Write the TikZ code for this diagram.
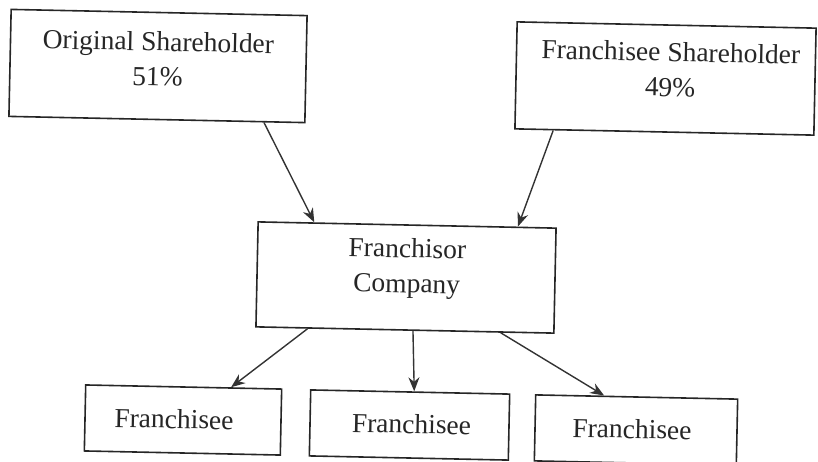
\documentclass[tikz,border=0pt]{standalone}
\usepackage{fontspec}
\setmainfont{Liberation Serif}
\usetikzlibrary{calc,arrows.meta}
\tikzset{
  box/.style={draw=black!85, line width=1.6pt, rectangle, inner sep=0pt, rotate=-1.2},
  lbl/.style={align=center, inner sep=0pt, text=black!85, rotate=-1.2,
              font=\fontsize{27.5}{35}\selectfont},
  conn/.style={draw=black!80, line width=1.4pt, -{Stealth[length=14pt,width=11pt]}}
}
\begin{document}
\begin{tikzpicture}[x=1pt,y=-1pt]
\useasboundingbox (0,0) rectangle (818,461);
% boxes
\node[box, minimum width=296pt, minimum height=107pt] (os) at (158,66) {};
\node[box, minimum width=299pt, minimum height=107pt] (fs) at (665.5,78.5) {};
\node[box, minimum width=298pt, minimum height=105pt] (fc) at (406,277.5) {};
\node[box, minimum width=196pt, minimum height=66pt] (fa) at (183,420) {};
\node[box, minimum width=199pt, minimum height=66pt] (fb) at (409.5,425) {};
\node[box, minimum width=202pt, minimum height=66pt] (fcc) at (636,430) {};
% texts
\node[lbl] (ost) at ($(os.center)+(0,-7)$) {Original Shareholder\\51\%};
\node[lbl] (fst) at ($(fs.center)+(5,-9)$) {Franchisee Shareholder\\49\%};
\node[lbl] (fct) at ($(fc.center)+(1,-9)$) {Franchisor\\Company};
\node[lbl] (fat) at ($(fa.center)+(-9,-1)$) {Franchisee};
\node[lbl] (fbt) at ($(fb.center)+(2,-1)$) {Franchisee};
\node[lbl] (fcct) at ($(fcc.center)+(-4,-1)$) {Franchisee};
% connectors
\draw[conn] ($(os.south west)!0.86!(os.south east)$) -- ($(fc.north west)!0.19!(fc.north east)$);
\draw[conn] ($(fs.south west)!0.13!(fs.south east)$) -- ($(fc.north west)!0.87!(fc.north east)$);
\draw[conn] ($(fc.south west)!0.175!(fc.south east)$) -- ($(fa.north west)!0.74!(fa.north east)$);
\draw[conn] ($(fc.south west)!0.527!(fc.south east)$) -- ($(fb.north west)!0.52!(fb.north east)$);
\draw[conn] ($(fc.south west)!0.82!(fc.south east)$) -- ($(fcc.north west)!0.34!(fcc.north east)$);
\end{tikzpicture}
\end{document}
